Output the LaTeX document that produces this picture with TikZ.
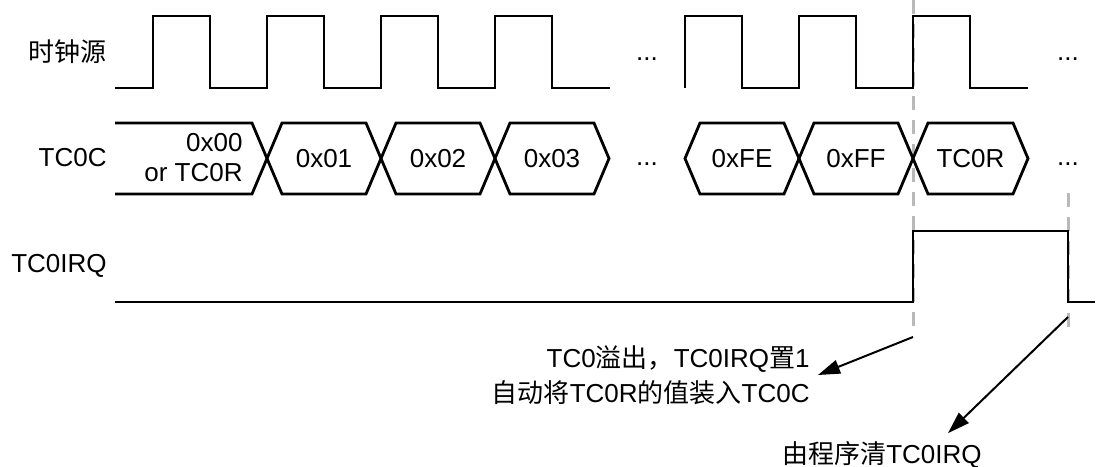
\documentclass[tikz,border=0pt]{standalone}
\usepackage{fontspec}
\setmainfont{Liberation Sans}
\newfontfamily\cjk{Noto Sans CJK SC}
\usetikzlibrary{arrows.meta,positioning}
\tikzstyle{sig} = [line width=1.4pt, line join=miter]
\tikzstyle{irqline} = [line width=1.2pt, line join=miter]
\tikzstyle{lbl} = [anchor=east, inner sep=0pt, font=\fontsize{13pt}{15pt}\selectfont]
\tikzstyle{val} = [inner sep=0pt, align=center, font=\fontsize{13pt}{15pt}\selectfont]
\tikzstyle{more} = [anchor=base, inner sep=0pt, font=\fontsize{13pt}{15pt}\selectfont]
\tikzstyle{guide} = [gray!55, line width=1.5pt, dash pattern=on 7pt off 5pt]
\tikzstyle{pointer} = [-{Triangle[length=11pt,width=7pt]}, line width=1pt]
\tikzstyle{note} = [align=right, inner sep=4pt, font=\fontsize{13pt}{17.5pt}\selectfont]

\begin{document}
\begin{tikzpicture}[x=0.5pt, y=-0.5pt]
  \useasboundingbox (0,0) rectangle (1102,466);
  % dashed marks
  \draw [guide] (913,0) -- (913,327);
  \draw [guide] (1068,193) -- (1068,327);
  % row labels
  \node [lbl] (clk) at (107,52) {\cjk 时钟源};
  \node [lbl] (cnt) at (107,158) {TC0C};
  \node [lbl] (irq) at (107,266) {TC0IRQ};
  % clock
  \draw [sig] (115,88) \foreach \x in {153,267,381,495} {
    -- (\x,88) -- (\x,16) -- (\x+57,16) -- (\x+57,88) } -- (610,88);
  \draw [sig] (685,88) \foreach \x in {685,799,913} {
    -- (\x,88) -- (\x,16) -- (\x+57,16) -- (\x+57,88) } -- (1028,88);
  \node [more] (dots1) at (647,60) {...};
  \node [more] (dots3) at (1068,60) {...};
  % counter
  \draw [sig] (115,123) -- (252,123) -- (267,158.5) -- (252,194) -- (115,194);
  \node [val, align=right, anchor=east] (v0) at (243,158) {0x00\\or TC0R};
  \foreach \a/\b/\v in {267/381/0x01, 381/495/0x02, 495/609/0x03,
      685/799/0xFE, 799/913/0xFF, 913/1028/TC0R} {
    \draw [sig] (\a,158.5) -- (\a+15,123) -- (\b-15,123) -- (\b,158.5)
      -- (\b-15,194) -- (\a+15,194) -- cycle;
    \node [val] (v\b) at ({(\a+\b)/2},158.5) {\v};
  }
  \node [more] (dots2) at (647,165) {...};
  \node [more] (dots4) at (1068,165) {...};
  % interrupt flag
  \draw [irqline] (115,302) -- (913,302) -- (913,231) -- (1068,231)
    -- (1068,302) -- (1095,302);
  % notes
  \coordinate (ovfpt) at (913,337);
  \coordinate (clrpt) at (1068,317);
  \node [note, anchor=east] (ovf) at (818,375)
    {TC0{\cjk 溢出，}TC0IRQ{\cjk 置}1\\{\cjk 自动将}TC0R{\cjk 的值装入}TC0C};
  \node [note] (clr) at (882,455) {{\cjk 由程序清}TC0IRQ};
  \draw [pointer] (ovfpt) -- (ovf.east);
  \draw [pointer] (clrpt) -- ([xshift=33pt]clr.north);
\end{tikzpicture}
\end{document}
